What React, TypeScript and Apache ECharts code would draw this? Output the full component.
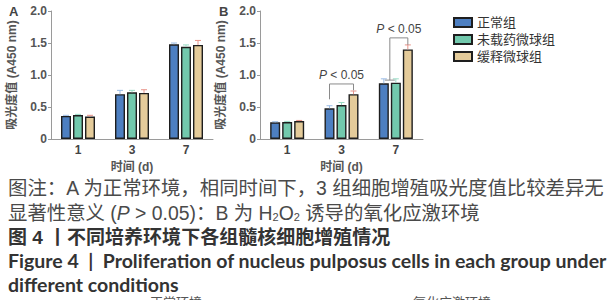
import React, { useEffect, useRef } from "react";
import * as echarts from "echarts";

const categories = ["1", "3", "7"];
const groupNames = ["正常组", "未载药微球组", "缓释微球组"];
const yMin = 0;
const yMax = 2;
const yInterval = 0.5;

// Panel A: normal environment
const aNormal = [0.36, 0.7, 1.48];
const aEmpty = [0.375, 0.73, 1.44];
const aRelease = [0.35, 0.72, 1.47];
const aNormalErr = [0.01, 0.06, 0.02];
const aEmptyErr = [0.01, 0.03, 0.03];
const aReleaseErr = [0.02, 0.05, 0.07];

// Panel B: H2O2 oxidative stress
const bNormal = [0.26, 0.48, 0.87];
const bEmpty = [0.265, 0.53, 0.88];
const bRelease = [0.28, 0.7, 1.4];
const bNormalErr = [0.01, 0.04, 0.07];
const bEmptyErr = [0.01, 0.04, 0.06];
const bReleaseErr = [0.01, 0.05, 0.07];

// significance brackets in panel B
const bracketCats = [1, 2];
const bracketTops = [0.86, 1.58];
const bracketLeftPos = [0, 0.5];
const bracketRightPos = [2, 2];
const bracketLeftBottoms = [0.62, 0.92];
const bracketRightBottoms = [0.76, 1.47];
const bracketCaps = [0, 1];
const bracketLabel = "{i|P} < 0.05";

const captionLines = [
  "图注：A 为正常环境，相同时间下，3 组细胞增殖吸光度值比较差异无",
  "图 4 丨不同培养环境下各组髓核细胞增殖情况",
  "Figure 4  |  Proliferation of nucleus pulposus cells in each group under",
  "different conditions",
];
const bottomLabels = ["正常环境", "氧化应激环境"];

const barColors = ["#4d7fc1", "#72c9ad", "#e4cb9a"];
const errColors = ["#9cbde6", "#9adcc6", "#e8948a"];
const BAR_W = 10;
const BAR_STEP = 12;
const CJK = "'Liberation Sans', 'Noto Sans CJK SC', sans-serif";
const LAT = "'Liberation Sans', 'Noto Sans', sans-serif";

export default function App() {
  const ref = useRef<HTMLDivElement>(null);
  useEffect(() => {
    if (!ref.current) return;
    const chart = echarts.init(ref.current, undefined, { renderer: "svg" });

    const grids = [
      { left: 51, top: 11, width: 162, height: 128 },
      { left: 260, top: 11, width: 163, height: 128 },
    ];

    const mkX = (gi: number) => ({
      type: "category",
      gridIndex: gi,
      data: categories,
      axisTick: { show: false },
      axisLine: { lineStyle: { color: "#9a9a9a", width: 1 } },
      axisLabel: { fontSize: 12, fontWeight: "bold", color: "#444", margin: 5, fontFamily: LAT, lineHeight: 12 },
      name: "时间 (d)",
      nameLocation: "middle",
      nameGap: 22,
      nameTextStyle: { fontSize: 12, fontWeight: "bold", color: "#555", fontFamily: CJK, lineHeight: 12 },
    });
    const mkY = (gi: number) => ({
      type: "value",
      gridIndex: gi,
      min: yMin,
      max: yMax,
      interval: yInterval,
      splitLine: { show: false },
      axisLine: { show: true, lineStyle: { color: "#9a9a9a", width: 1 } },
      axisTick: { show: true, length: 3, lineStyle: { color: "#9a9a9a" } },
      axisLabel: {
        fontSize: 12,
        fontWeight: "bold",
        color: "#555",
        margin: 4,
        fontFamily: LAT,
        formatter: (v: number) => (v === 0 ? "0" : v.toFixed(1)),
      },
      name: "吸光度值 (A450 nm)",
      nameLocation: "middle",
      nameGap: 33,
      nameTextStyle: { fontSize: 12, fontWeight: "bold", color: "#555", fontFamily: CJK },
    });

    const panels = [
      { vals: [aNormal, aEmpty, aRelease], errs: [aNormalErr, aEmptyErr, aReleaseErr] },
      { vals: [bNormal, bEmpty, bRelease], errs: [bNormalErr, bEmptyErr, bReleaseErr] },
    ];

    const series: any[] = [];
    panels.forEach((p, gi) => {
      p.vals.forEach((vals, si) => {
        series.push({
          type: "bar",
          name: groupNames[si],
          xAxisIndex: gi,
          yAxisIndex: gi,
          data: vals,
          barWidth: BAR_W,
          barGap: "20%",
          itemStyle: { color: barColors[si], borderColor: "#1e1e1e", borderWidth: 1.4 },
        });
      });
      const errData: number[][] = [];
      p.vals.forEach((vals, si) => {
        vals.forEach((v, ci) => errData.push([ci, v, p.errs[si][ci], si]));
      });
      series.push({
        type: "custom",
        xAxisIndex: gi,
        yAxisIndex: gi,
        z: 5,
        data: errData,
        renderItem: (_params: any, api: any) => {
          const ci = api.value(0);
          const v = api.value(1);
          const e = api.value(2);
          const si = api.value(3);
          const b = api.coord([ci, v]);
          const t = api.coord([ci, v + e]);
          const x = b[0] + (si - 1) * BAR_STEP;
          const st = { stroke: errColors[si], lineWidth: 1 };
          return {
            type: "group",
            children: [
              { type: "line", shape: { x1: x, y1: b[1], x2: x, y2: t[1] }, style: st },
              { type: "line", shape: { x1: x - 3, y1: t[1], x2: x + 3, y2: t[1] }, style: st },
            ],
          };
        },
      });
    });

    const bracketData = bracketCats.map((c, i) => [
      c,
      bracketTops[i],
      bracketLeftPos[i],
      bracketRightPos[i],
      bracketLeftBottoms[i],
      bracketRightBottoms[i],
      bracketCaps[i],
    ]);
    series.push({
      type: "custom",
      xAxisIndex: 1,
      yAxisIndex: 1,
      z: 6,
      data: bracketData,
      renderItem: (_params: any, api: any) => {
        const c = api.value(0);
        const top = api.coord([c, api.value(1)]);
        const lb = api.coord([c, api.value(4)]);
        const rb = api.coord([c, api.value(5)]);
        const xl = top[0] + (api.value(2) - 1) * BAR_STEP;
        const xr = top[0] + (api.value(3) - 1) * BAR_STEP;
        const st = { stroke: "#8a8a8a", lineWidth: 1, fill: "none" };
        const children: any[] = [
          {
            type: "polyline",
            shape: { points: [[xl, lb[1]], [xl, top[1]], [xr, top[1]], [xr, rb[1]]] },
            style: st,
          },
          {
            type: "text",
            x: (xl + xr) / 2,
            y: top[1] - 3,
            style: {
              text: bracketLabel,
              fill: "#444",
              fontSize: 12,
              fontFamily: LAT,
              align: "center",
              verticalAlign: "bottom",
              rich: { i: { fontStyle: "italic", fontSize: 12, fill: "#444", fontFamily: LAT } },
            },
          },
        ];
        if (api.value(6)) {
          children.push({
            type: "line",
            shape: { x1: xl - 5, y1: lb[1], x2: xl + 5, y2: lb[1] },
            style: st,
          });
        }
        return { type: "group", children };
      },
    });

    const capStyle1 = { fill: "#4a4a4a", fontSize: 19.4, fontFamily: CJK, lineHeight: 20 };
    chart.setOption({
      animation: false,
      backgroundColor: "#ffffff",
      grid: grids,
      xAxis: [mkX(0), mkX(1)],
      yAxis: [mkY(0), mkY(1)],
      legend: {
        data: groupNames,
        orient: "vertical",
        left: 448,
        top: 11,
        itemWidth: 18,
        itemHeight: 9,
        itemGap: 4,
        icon: "rect",
        textStyle: { fontSize: 13, color: "#333", fontFamily: CJK, lineHeight: 12 },
      },
      series,
      graphic: [
        { type: "text", left: 9, top: 5, style: { text: "A", fontSize: 13, fontWeight: "bold", fill: "#444", fontFamily: LAT } },
        { type: "text", left: 219, top: 5, style: { text: "B", fontSize: 13, fontWeight: "bold", fill: "#444", fontFamily: LAT } },
        { type: "text", left: 8, top: 178, style: { text: captionLines[0], ...capStyle1 } },
        {
          type: "text",
          left: 8,
          top: 203,
          style: {
            text: "显著性意义 ({i|P} > 0.05)：B 为 H{s|2}O{s|2} 诱导的氧化应激环境",
            ...capStyle1,
            rich: {
              i: { fontStyle: "italic", fontSize: 19.4, fill: "#4a4a4a", fontFamily: LAT, lineHeight: 20 },
              s: { fontSize: 11, fill: "#4a4a4a", fontFamily: LAT, lineHeight: 20, padding: [7, 0, 0, 0] },
            },
          },
        },
        { type: "text", left: 8, top: 227, style: { text: captionLines[1], fill: "#333", fontSize: 19, fontWeight: "bold", fontFamily: CJK, lineHeight: 20 } },
        { type: "text", left: 8, top: 250, style: { text: captionLines[2], fill: "#333", fontSize: 19.5, fontWeight: "bold", fontFamily: "Lato, sans-serif", lineHeight: 20 } },
        { type: "text", left: 8, top: 274, style: { text: captionLines[3], fill: "#333", fontSize: 19.5, fontWeight: "bold", fontFamily: "Lato, sans-serif", lineHeight: 20 } },
        { type: "text", left: 150, top: 296, style: { text: bottomLabels[0], fill: "#555", fontSize: 13, fontFamily: CJK, lineHeight: 13 } },
        { type: "text", left: 413, top: 296, style: { text: bottomLabels[1], fill: "#555", fontSize: 13, fontFamily: CJK, lineHeight: 13 } },
      ],
    });
    return () => chart.dispose();
  }, []);
  return <div ref={ref} style={{ position: "absolute", left: 0, top: 0, width: 616, height: 300 }} />;
}
